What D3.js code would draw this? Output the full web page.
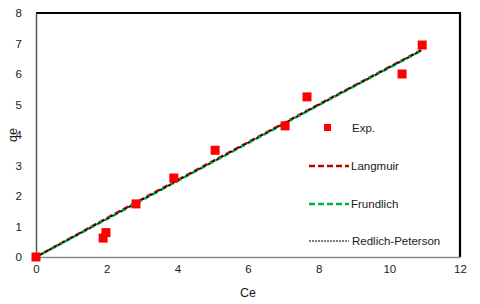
<!DOCTYPE html>
<html>
<head>
<meta charset="utf-8">
<script src="https://cdn.jsdelivr.net/npm/d3@7"></script>
<style>
body { margin: 0; background: #fff; }
text { font-family: "Liberation Sans", Arial, sans-serif; }
</style>
</head>
<body>
<div id="chart"></div>
<script>
// experimental points
var expCe = [0, 1.9, 1.98, 2.83, 3.9, 5.07, 7.05, 7.67, 10.36, 10.93];
var expQe = [0, 0.62, 0.8, 1.74, 2.59, 3.5, 4.3, 5.25, 6.0, 6.95];

// model curves
var modelCe = [0, 2, 4, 6, 8, 10.9];
var langmuir = [0, 1.27, 2.52, 3.76, 5.0, 6.78];
var frundlich = [0, 1.24, 2.49, 3.73, 4.98, 6.76];
var redlich = [0, 1.25, 2.5, 3.75, 4.99, 6.77];

var xTicks = [0, 2, 4, 6, 8, 10, 12];
var yTicks = [0, 1, 2, 3, 4, 5, 6, 7, 8];

renderChart();

function renderChart() {
  var width = 480, height = 304;
  var margin = {left: 36, top: 13, right: 20, bottom: 47};

  var svg = d3.select("#chart").append("svg")
    .attr("width", width)
    .attr("height", height);

  var x = d3.scaleLinear().domain([0, 12]).range([margin.left, width - margin.right]);
  var y = d3.scaleLinear().domain([0, 8]).range([height - margin.bottom, margin.top]);

  // frame: top and right black, left/bottom as axes
  svg.append("line").attr("x1", x(0)).attr("x2", x(12) + 1).attr("y1", y(8)).attr("y2", y(8))
    .attr("stroke", "#000").attr("stroke-width", 2.2);
  svg.append("line").attr("x1", x(12)).attr("x2", x(12)).attr("y1", y(8)).attr("y2", y(0))
    .attr("stroke", "#000").attr("stroke-width", 2.2);

  var xAxis = svg.append("g")
    .attr("transform", "translate(0," + y(0) + ")")
    .call(d3.axisBottom(x).tickValues(xTicks).tickSize(0).tickPadding(8));
  xAxis.select(".domain").attr("stroke", "#8a8a8a").attr("stroke-width", 1.5);
  xAxis.selectAll("text").attr("font-size", 11.5).attr("fill", "#1a1a1a");

  var yAxis = svg.append("g")
    .attr("transform", "translate(" + x(0) + ",0)")
    .call(d3.axisLeft(y).tickValues(yTicks).tickSize(0).tickPadding(14));
  yAxis.select(".domain").attr("stroke", "#555").attr("stroke-width", 1.5);
  yAxis.selectAll("text").attr("font-size", 11.5).attr("fill", "#1a1a1a");

  // axis titles
  svg.append("text").attr("x", x(6)).attr("y", 297)
    .attr("text-anchor", "middle").attr("font-size", 12.5).attr("fill", "#1a1a1a").text("Ce");
  svg.append("text").attr("transform", "translate(17," + y(4) + ") rotate(-90)")
    .attr("text-anchor", "middle").attr("font-size", 12.5).attr("fill", "#1a1a1a").text("qe");

  var line = d3.line()
    .x(function(d, i) { return x(modelCe[i]); })
    .y(function(d) { return y(d); });

  svg.append("path").datum(langmuir).attr("d", line)
    .attr("fill", "none").attr("stroke", "#c00000").attr("stroke-width", 2.5)
    .attr("stroke-dasharray", "6,3");
  svg.append("path").datum(frundlich).attr("d", line)
    .attr("fill", "none").attr("stroke", "#00b050").attr("stroke-width", 2.5)
    .attr("stroke-dasharray", "6,3").attr("stroke-dashoffset", 3);
  svg.append("path").datum(redlich).attr("d", line)
    .attr("fill", "none").attr("stroke", "#000").attr("stroke-width", 1.2)
    .attr("stroke-dasharray", "3,2");

  var s = 9;
  svg.append("g").selectAll("rect")
    .data(expCe)
    .enter().append("rect")
    .attr("x", function(d) { return x(d) - s / 2; })
    .attr("y", function(d, i) { return y(expQe[i]) - s / 2; })
    .attr("width", s).attr("height", s)
    .attr("fill", "#ff0000");

  // legend
  var lg = svg.append("g").attr("font-size", 11.5).attr("fill", "#1a1a1a");
  lg.append("rect").attr("x", 324).attr("y", 124).attr("width", 7).attr("height", 7).attr("fill", "#ff0000");
  lg.append("text").attr("x", 352).attr("y", 132).text("Exp.");

  lg.append("line").attr("x1", 309).attr("x2", 349).attr("y1", 166).attr("y2", 166)
    .attr("stroke", "#c00000").attr("stroke-width", 2.5).attr("stroke-dasharray", "6,3");
  lg.append("text").attr("x", 351).attr("y", 170).text("Langmuir");

  lg.append("line").attr("x1", 309).attr("x2", 349).attr("y1", 204).attr("y2", 204)
    .attr("stroke", "#00b050").attr("stroke-width", 2.5).attr("stroke-dasharray", "6,3");
  lg.append("text").attr("x", 351).attr("y", 208).text("Frundlich");

  lg.append("line").attr("x1", 309).attr("x2", 349).attr("y1", 241).attr("y2", 241)
    .attr("stroke", "#000").attr("stroke-width", 1).attr("stroke-dasharray", "2,1");
  lg.append("text").attr("x", 352).attr("y", 245).text("Redlich-Peterson");
}
</script>
</body>
</html>
